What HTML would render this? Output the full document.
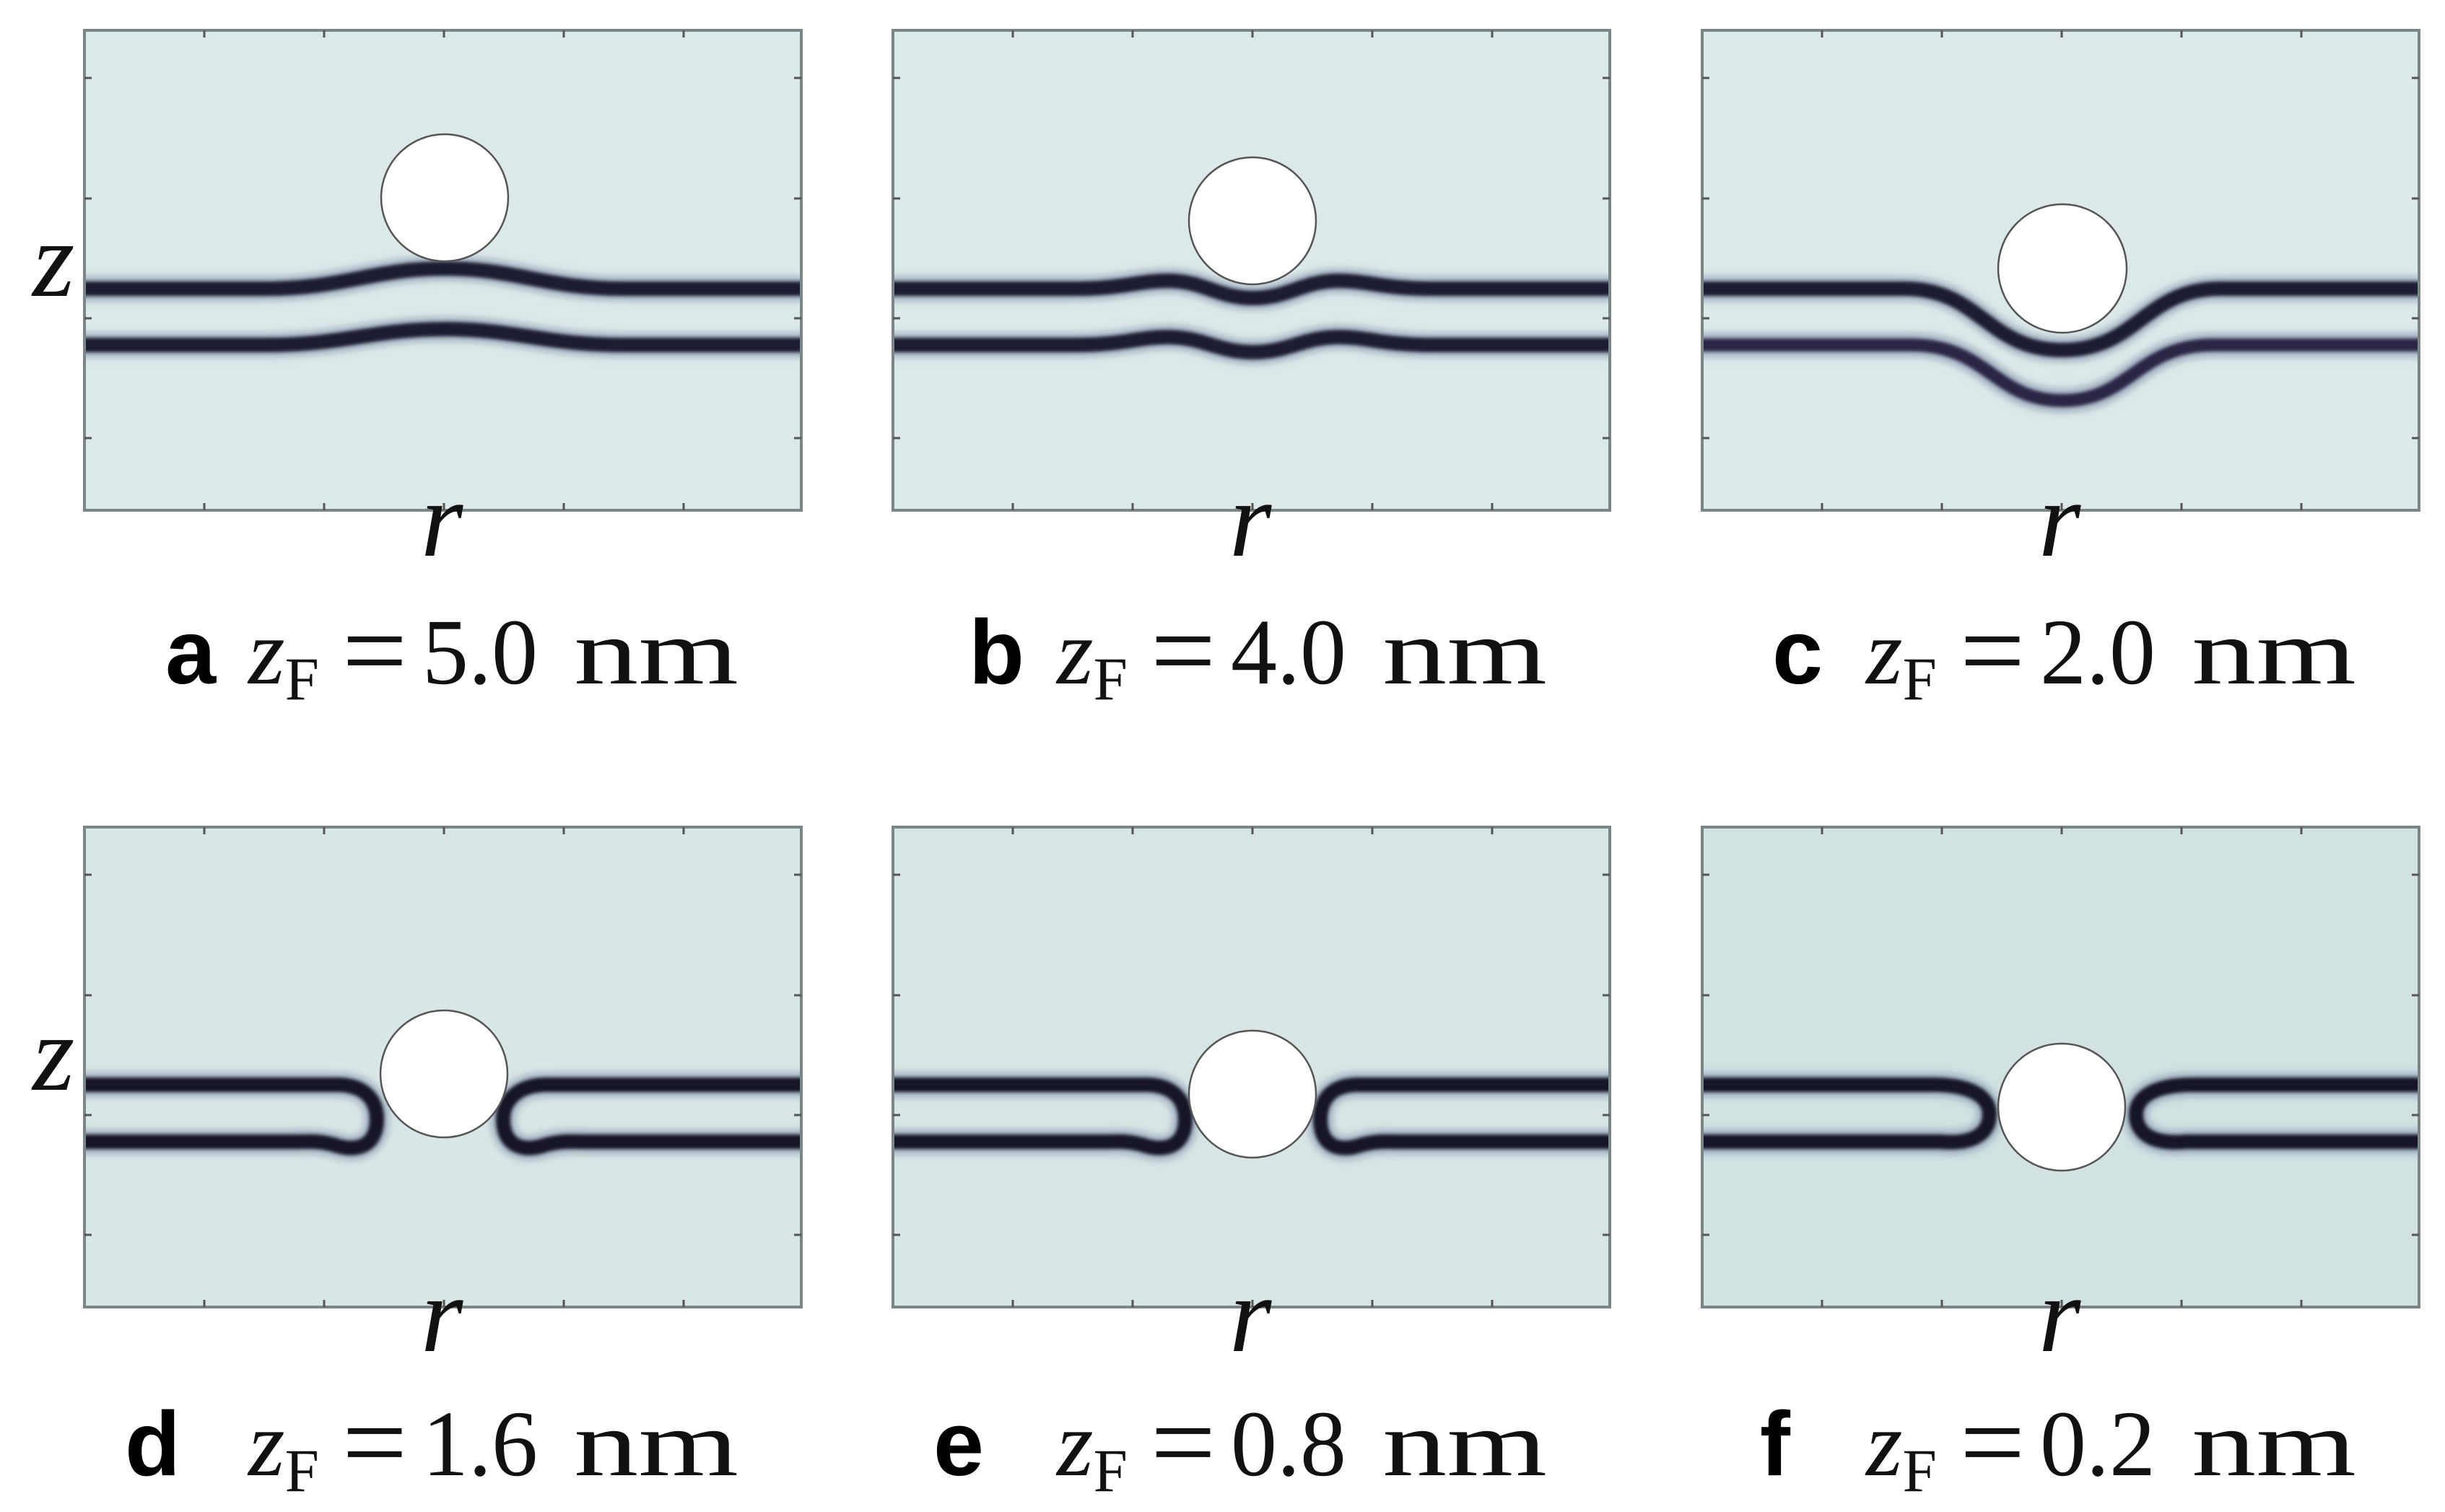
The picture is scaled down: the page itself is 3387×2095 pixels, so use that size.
<!DOCTYPE html>
<html><head><meta charset="utf-8"><style>
html,body{margin:0;padding:0;background:#fff;}
svg{display:block;}
.lab{font-family:"Liberation Serif",serif;font-style:italic;font-size:150px;fill:#111;}
.cap{font-family:"Liberation Serif",serif;font-size:130px;fill:#111;}
.eq{font-family:"Liberation Serif",serif;font-size:160px;fill:#111;}
.let{font-family:"Liberation Sans",sans-serif;font-weight:bold;font-size:126px;fill:#000;}
</style></head><body>
<svg width="3387" height="2095" viewBox="0 0 3387 2095" xmlns="http://www.w3.org/2000/svg">
<defs>
<filter id="bl" x="-10%" y="-50%" width="120%" height="200%"><feGaussianBlur stdDeviation="5"/></filter>
<filter id="bl2" x="-10%" y="-50%" width="120%" height="200%"><feGaussianBlur stdDeviation="2.5"/></filter>
<clipPath id="pc"><rect x="0" y="0" width="993" height="665"/></clipPath>
<g id="ticks" fill="none" stroke="#555" stroke-width="3">
<path d="M166,0v10M332,0v10M498,0v10M664,0v10M830,0v10M166,665v-10M332,665v-10M498,665v-10M664,665v-10M830,665v-10M0,66h10M0,233h10M0,399h10M0,565h10M993,66h-10M993,233h-10M993,399h-10M993,565h-10"/>
</g>
</defs>

<!-- Panel a -->
<g transform="translate(117,42)">
<rect width="993" height="665" fill="#dde9e9"/>
<g clip-path="url(#pc)" fill="none" stroke-linecap="round">
<g stroke="#7f8ea8" stroke-width="34" opacity="0.6" filter="url(#bl)">
<path d="M-10,358 L250,358 C360,358 400,330 499,330 C598,330 638,358 748,358 L1003,358"/>
<path d="M-10,436 L250,436 C360,436 400,414 499,414 C598,414 638,436 748,436 L1003,436"/>
</g>
<g stroke="#1c1a30" stroke-width="20" filter="url(#bl2)">
<path d="M-10,358 L250,358 C360,358 400,330 499,330 C598,330 638,358 748,358 L1003,358"/>
<path d="M-10,436 L250,436 C360,436 400,414 499,414 C598,414 638,436 748,436 L1003,436"/>
</g>
</g>
<circle cx="499" cy="232" r="88" fill="#fff" stroke="#555" stroke-width="2.5"/>
<rect width="993" height="665" fill="none" stroke="#7a8585" stroke-width="4"/>
<use href="#ticks"/>
</g>

<!-- Panel b -->
<g transform="translate(1237,42)">
<rect width="993" height="665" fill="#dde9e9"/>
<g clip-path="url(#pc)" fill="none" stroke-linecap="round">
<g stroke="#7f8ea8" stroke-width="34" opacity="0.6" filter="url(#bl)">
<path d="M-10,358 L250,358 C320,358 340,347 380,347 C430,347 450,371 499,371 C548,371 568,347 618,347 C658,347 678,358 748,358 L1003,358"/>
<path d="M-10,436 L250,436 C320,436 340,425 380,425 C430,425 450,446 499,446 C548,446 568,425 618,425 C658,425 678,436 748,436 L1003,436"/>
</g>
<g stroke="#1c1a30" stroke-width="20" filter="url(#bl2)">
<path d="M-10,358 L250,358 C320,358 340,347 380,347 C430,347 450,371 499,371 C548,371 568,347 618,347 C658,347 678,358 748,358 L1003,358"/>
<path d="M-10,436 L250,436 C320,436 340,425 380,425 C430,425 450,446 499,446 C548,446 568,425 618,425 C658,425 678,436 748,436 L1003,436"/>
</g>
</g>
<circle cx="498" cy="264" r="88" fill="#fff" stroke="#555" stroke-width="2.5"/>
<rect width="993" height="665" fill="none" stroke="#7a8585" stroke-width="4"/>
<use href="#ticks"/>
</g>

<!-- Panel c -->
<g transform="translate(2358,42)">
<rect width="993" height="665" fill="#dde9e9"/>
<g clip-path="url(#pc)" fill="none" stroke-linecap="round">
<g stroke="#7f8ea8" stroke-width="34" opacity="0.6" filter="url(#bl)">
<path d="M-10,358 L280,358 C385,358 395,443 499,443 C603,443 613,358 718,358 L1003,358"/>
<path d="M-10,436 L290,436 C395,436 405,513 499,513 C593,513 603,436 708,436 L1003,436"/>
</g>
<g stroke="#1c1a30" stroke-width="20" filter="url(#bl2)">
<path d="M-10,358 L280,358 C385,358 395,443 499,443 C603,443 613,358 718,358 L1003,358"/>
</g>
<g stroke="#2a2845" stroke-width="18" filter="url(#bl2)">
<path d="M-10,436 L290,436 C395,436 405,513 499,513 C593,513 603,436 708,436 L1003,436"/>
</g>
</g>
<circle cx="499" cy="330" r="89" fill="#fff" stroke="#555" stroke-width="2.5"/>
<rect width="993" height="665" fill="none" stroke="#7a8585" stroke-width="4"/>
<use href="#ticks"/>
</g>

<!-- Panel d -->
<g transform="translate(117,1146)">
<rect width="993" height="665" fill="#d9e6e6"/>
<g clip-path="url(#pc)" fill="none" stroke-linecap="round">
<g stroke="#7f8ea8" stroke-width="34" opacity="0.6" filter="url(#bl)">
<path d="M-10,357 L350,357 C385,357 405,375 405,405 C405,440 380,452 345,440 C320,434 310,436 290,436 L-10,436"/>
<path d="M1003,357 L640,357 C605,357 580,375 580,405 C580,440 605,452 640,440 C665,434 675,436 695,436 L1003,436"/>
</g>
<g stroke="#141226" stroke-width="20" filter="url(#bl2)">
<path d="M-10,357 L350,357 C385,357 405,375 405,405 C405,440 380,452 345,440 C320,434 310,436 290,436 L-10,436"/>
<path d="M1003,357 L640,357 C605,357 580,375 580,405 C580,440 605,452 640,440 C665,434 675,436 695,436 L1003,436"/>
</g>
</g>
<circle cx="498" cy="342" r="88" fill="#fff" stroke="#555" stroke-width="2.5"/>
<rect width="993" height="665" fill="none" stroke="#7a8585" stroke-width="4"/>
<use href="#ticks"/>
</g>

<!-- Panel e -->
<g transform="translate(1237,1146)">
<rect width="993" height="665" fill="#d7e5e5"/>
<g clip-path="url(#pc)" fill="none" stroke-linecap="round">
<g stroke="#7f8ea8" stroke-width="34" opacity="0.6" filter="url(#bl)">
<path d="M-10,357 L350,357 C385,357 405,375 405,405 C405,440 380,452 345,440 C320,434 310,436 290,436 L-10,436"/>
<path d="M1003,357 L645,357 C610,357 592,375 592,405 C592,440 615,452 650,440 C675,434 685,436 705,436 L1003,436"/>
</g>
<g stroke="#141226" stroke-width="20" filter="url(#bl2)">
<path d="M-10,357 L350,357 C385,357 405,375 405,405 C405,440 380,452 345,440 C320,434 310,436 290,436 L-10,436"/>
<path d="M1003,357 L645,357 C610,357 592,375 592,405 C592,440 615,452 650,440 C675,434 685,436 705,436 L1003,436"/>
</g>
</g>
<circle cx="498" cy="370" r="88" fill="#fff" stroke="#555" stroke-width="2.5"/>
<rect width="993" height="665" fill="none" stroke="#7a8585" stroke-width="4"/>
<use href="#ticks"/>
</g>

<!-- Panel f -->
<g transform="translate(2358,1146)">
<rect width="993" height="665" fill="#d2e2e2"/>
<g clip-path="url(#pc)" fill="none" stroke-linecap="round">
<g stroke="#7f8ea8" stroke-width="34" opacity="0.6" filter="url(#bl)">
<path d="M-10,357 L320,357 C375,357 398,375 398,398 C398,425 375,440 330,436 L-10,436"/>
<path d="M1003,357 L680,357 C625,357 601,375 601,398 C601,425 625,440 670,436 L1003,436"/>
</g>
<g stroke="#141226" stroke-width="20" filter="url(#bl2)">
<path d="M-10,357 L320,357 C375,357 398,375 398,398 C398,425 375,440 330,436 L-10,436"/>
<path d="M1003,357 L680,357 C625,357 601,375 601,398 C601,425 625,440 670,436 L1003,436"/>
</g>
</g>
<circle cx="498" cy="388" r="88" fill="#fff" stroke="#555" stroke-width="2.5"/>
<rect width="993" height="665" fill="none" stroke="#7a8585" stroke-width="4"/>
<use href="#ticks"/>
</g>

<!-- axis labels -->
<text class="lab" x="45" y="410">z</text>
<text class="lab" x="45" y="1510">z</text>
<text class="lab" x="583" y="770">r</text>
<text class="lab" x="1703" y="770">r</text>
<text class="lab" x="2824" y="770">r</text>
<text class="lab" x="583" y="1872">r</text>
<text class="lab" x="1703" y="1872">r</text>
<text class="lab" x="2824" y="1872">r</text>

<!-- captions row 1 -->
<g>
<text class="let" x="229" y="947">a</text>
<text class="cap" x="344" y="947"><tspan font-style="italic">z</tspan><tspan font-size="85" dy="22">F</tspan></text>
<text class="eq" x="474" y="955">=</text>
<text class="cap" x="585" y="947" textLength="160" lengthAdjust="spacingAndGlyphs">5.0</text>
<text class="cap" x="795" y="947" textLength="228" lengthAdjust="spacingAndGlyphs">nm</text>

<text class="let" x="1342" y="947">b</text>
<text class="cap" x="1464" y="947"><tspan font-style="italic">z</tspan><tspan font-size="85" dy="22">F</tspan></text>
<text class="eq" x="1594" y="955">=</text>
<text class="cap" x="1705" y="947" textLength="160" lengthAdjust="spacingAndGlyphs">4.0</text>
<text class="cap" x="1915" y="947" textLength="228" lengthAdjust="spacingAndGlyphs">nm</text>

<text class="let" x="2455" y="947">c</text>
<text class="cap" x="2585" y="947"><tspan font-style="italic">z</tspan><tspan font-size="85" dy="22">F</tspan></text>
<text class="eq" x="2715" y="955">=</text>
<text class="cap" x="2826" y="947" textLength="160" lengthAdjust="spacingAndGlyphs">2.0</text>
<text class="cap" x="3036" y="947" textLength="228" lengthAdjust="spacingAndGlyphs">nm</text>
</g>
<!-- captions row 2 -->
<g>
<text class="let" x="173" y="2044">d</text>
<text class="cap" x="344" y="2044"><tspan font-style="italic">z</tspan><tspan font-size="85" dy="22">F</tspan></text>
<text class="eq" x="474" y="2052">=</text>
<text class="cap" x="585" y="2044" textLength="160" lengthAdjust="spacingAndGlyphs">1.6</text>
<text class="cap" x="795" y="2044" textLength="228" lengthAdjust="spacingAndGlyphs">nm</text>

<text class="let" x="1293" y="2044">e</text>
<text class="cap" x="1464" y="2044"><tspan font-style="italic">z</tspan><tspan font-size="85" dy="22">F</tspan></text>
<text class="eq" x="1594" y="2052">=</text>
<text class="cap" x="1705" y="2044" textLength="160" lengthAdjust="spacingAndGlyphs">0.8</text>
<text class="cap" x="1915" y="2044" textLength="228" lengthAdjust="spacingAndGlyphs">nm</text>

<text class="let" x="2438" y="2044">f</text>
<text class="cap" x="2585" y="2044"><tspan font-style="italic">z</tspan><tspan font-size="85" dy="22">F</tspan></text>
<text class="eq" x="2715" y="2052">=</text>
<text class="cap" x="2826" y="2044" textLength="160" lengthAdjust="spacingAndGlyphs">0.2</text>
<text class="cap" x="3036" y="2044" textLength="228" lengthAdjust="spacingAndGlyphs">nm</text>
</g>
</svg>
</body></html>
